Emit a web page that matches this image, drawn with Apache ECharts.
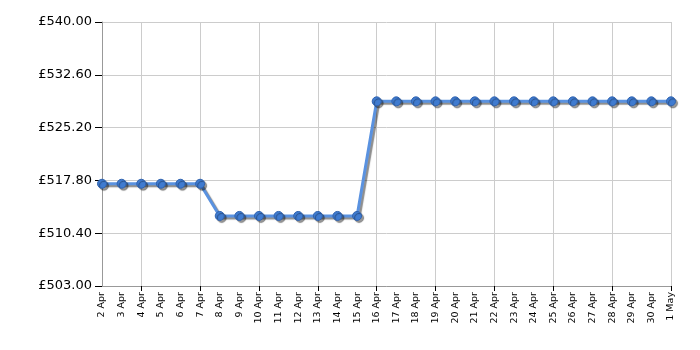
<!DOCTYPE html>
<html><head><meta charset="utf-8">
<script src="https://cdn.jsdelivr.net/npm/echarts@6/dist/echarts.min.js"></script>
<style>html,body{margin:0;padding:0;background:#fff}#c{width:700px;height:350px}</style>
</head><body><div id="c"></div>
<script>
const categories = ["2 Apr","3 Apr","4 Apr","5 Apr","6 Apr","7 Apr","8 Apr","9 Apr","10 Apr","11 Apr","12 Apr","13 Apr","14 Apr","15 Apr","16 Apr","17 Apr","18 Apr","19 Apr","20 Apr","21 Apr","22 Apr","23 Apr","24 Apr","25 Apr","26 Apr","27 Apr","28 Apr","29 Apr","30 Apr","1 May"];
const prices = [517.33,517.33,517.33,517.33,517.33,517.33,512.82,512.82,512.82,512.82,512.82,512.82,512.82,512.82,528.88,528.88,528.88,528.88,528.88,528.88,528.88,528.88,528.88,528.88,528.88,528.88,528.88,528.88,528.88,528.88];
const yMin = 503.0, yMax = 540.0, yStep = 7.4;

const chart = echarts.init(document.getElementById('c'), null, {renderer:'canvas'});
const tickFn = (i) => i % 3 === 2;
chart.setOption({
  animation:false,
  grid:{left:102, right:29, top:22, bottom:64, containLabel:false},
  xAxis:{
    type:'category', data:categories, boundaryGap:false,
    axisLine:{lineStyle:{color:'#999', width:1}},
    axisTick:{show:true, interval:tickFn, length:5, lineStyle:{color:'#000'}},
    axisLabel:{interval:0, rotate:90, fontSize:9.5, fontFamily:'DejaVu Sans', color:'#000', margin:6},
    splitLine:{show:true, interval:tickFn, lineStyle:{color:'#ccc', width:1}}
  },
  yAxis:{
    type:'value', min:yMin, max:yMax, interval:yStep,
    axisLine:{show:true, lineStyle:{color:'#999'}},
    axisTick:{show:true, length:7, lineStyle:{color:'#000'}},
    axisLabel:{fontSize:13, fontFamily:'DejaVu Sans', color:'#000', margin:10, formatter:v=>'£'+v.toFixed(2)},
    splitLine:{show:true, lineStyle:{color:'#ccc', width:1}}
  },
  series:[{
    type:'line', data:prices,
    symbol:'circle', symbolSize:9,
    lineStyle:{color:'#5a92e0', width:3, shadowColor:'rgba(0,0,0,0.45)', shadowBlur:1, shadowOffsetX:2, shadowOffsetY:2},
    itemStyle:{color:'#3f7bd0', borderColor:'#2f62ae', borderWidth:1, shadowColor:'rgba(0,0,0,0.4)', shadowBlur:1, shadowOffsetX:2, shadowOffsetY:2}
  }]
});
</script></body></html>
